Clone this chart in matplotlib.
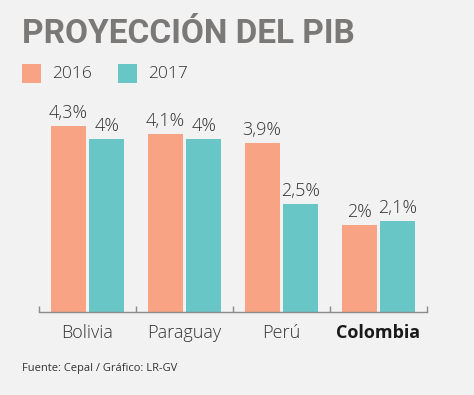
import matplotlib
matplotlib.use("Agg")
import matplotlib.pyplot as plt
from matplotlib.patches import Rectangle

categories = ["Bolivia", "Paraguay", "Perú", "Colombia"]
v2016 = [4.3, 4.1, 3.9, 2.0]
v2017 = [4.0, 4.0, 2.5, 2.1]
lab2016 = ["4,3%", "4,1%", "3,9%", "2%"]
lab2017 = ["4%", "4%", "2,5%", "2,1%"]
series = ["2016", "2017"]

c16 = "#F9A385"
c17 = "#68C6C6"
bg = "#F2F2F2"
txt = "#333333"

W, H = 474, 395
fig = plt.figure(figsize=(W/100, H/100), dpi=100, facecolor=bg)
font = "Open Sans"

ax = fig.add_axes([39/W, (H-312)/H, 388/W, 212/H], facecolor=bg)
x = list(range(len(categories)))
bw = 0.36
off = 0.2
b1 = ax.bar([i - off for i in x], v2016, bw, color=c16)
b2 = ax.bar([i + off for i in x], v2017, bw, color=c17)
for rects, labs in ((b1, lab2016), (b2, lab2017)):
    for r, l in zip(rects, labs):
        ax.annotate(l, (r.get_x() + r.get_width()/2, r.get_height()),
                    xytext=(0, 3), textcoords="offset points",
                    ha="center", va="bottom", fontsize=13, color=txt,
                    family=font, fontweight="light")
ax.set_xlim(-0.5, 3.5)
ax.set_ylim(0, 212/43.3)
for s in ("top", "right", "left"):
    ax.spines[s].set_visible(False)
ax.spines["bottom"].set_color("#8a8a8a")
ax.spines["bottom"].set_linewidth(1.0)
ax.set_yticks([])
ax.set_xticks([-0.5, 0.5, 1.5, 2.5, 3.5])
ax.set_xticklabels([])
ax.tick_params(axis="x", which="major", direction="in", length=4, color="#8a8a8a", width=1)
ax.set_xticks(x, minor=True)
ax.set_xticklabels(categories, minor=True)
ax.tick_params(axis="x", which="minor", length=0, pad=9, labelsize=13, labelcolor=txt)
for i, t in enumerate(ax.get_xticklabels(minor=True)):
    t.set_family(font)
    if categories[i] == "Colombia":
        t.set_fontweight("bold")
        t.set_color("#1a1a1a")
    else:
        t.set_fontweight("light")

fig.text(22/W, 1 - 34/H, "PROYECCIÓN DEL PIB", fontsize=24, fontweight="bold",
         color="#7b7978", family="Roboto", va="center", ha="left")

# legend
for i, (name, col) in enumerate(zip(series, (c16, c17))):
    x0 = 22 + i*96
    fig.patches.append(Rectangle((x0/W, 1 - 83/H), 19/W, 19/H, transform=fig.transFigure,
                                 facecolor=col, edgecolor="none"))
    fig.text((x0 + 30)/W, 1 - 74/H, name, fontsize=12.5, color=txt, family=font,
             fontweight="light", va="center", ha="left")

fig.text(22/W, 1 - 369/H, "Fuente: Cepal / Gráfico: LR-GV", fontsize=8, color=txt,
         family=font, va="center", ha="left")

fig.savefig("out.png", dpi=100, facecolor=bg)
